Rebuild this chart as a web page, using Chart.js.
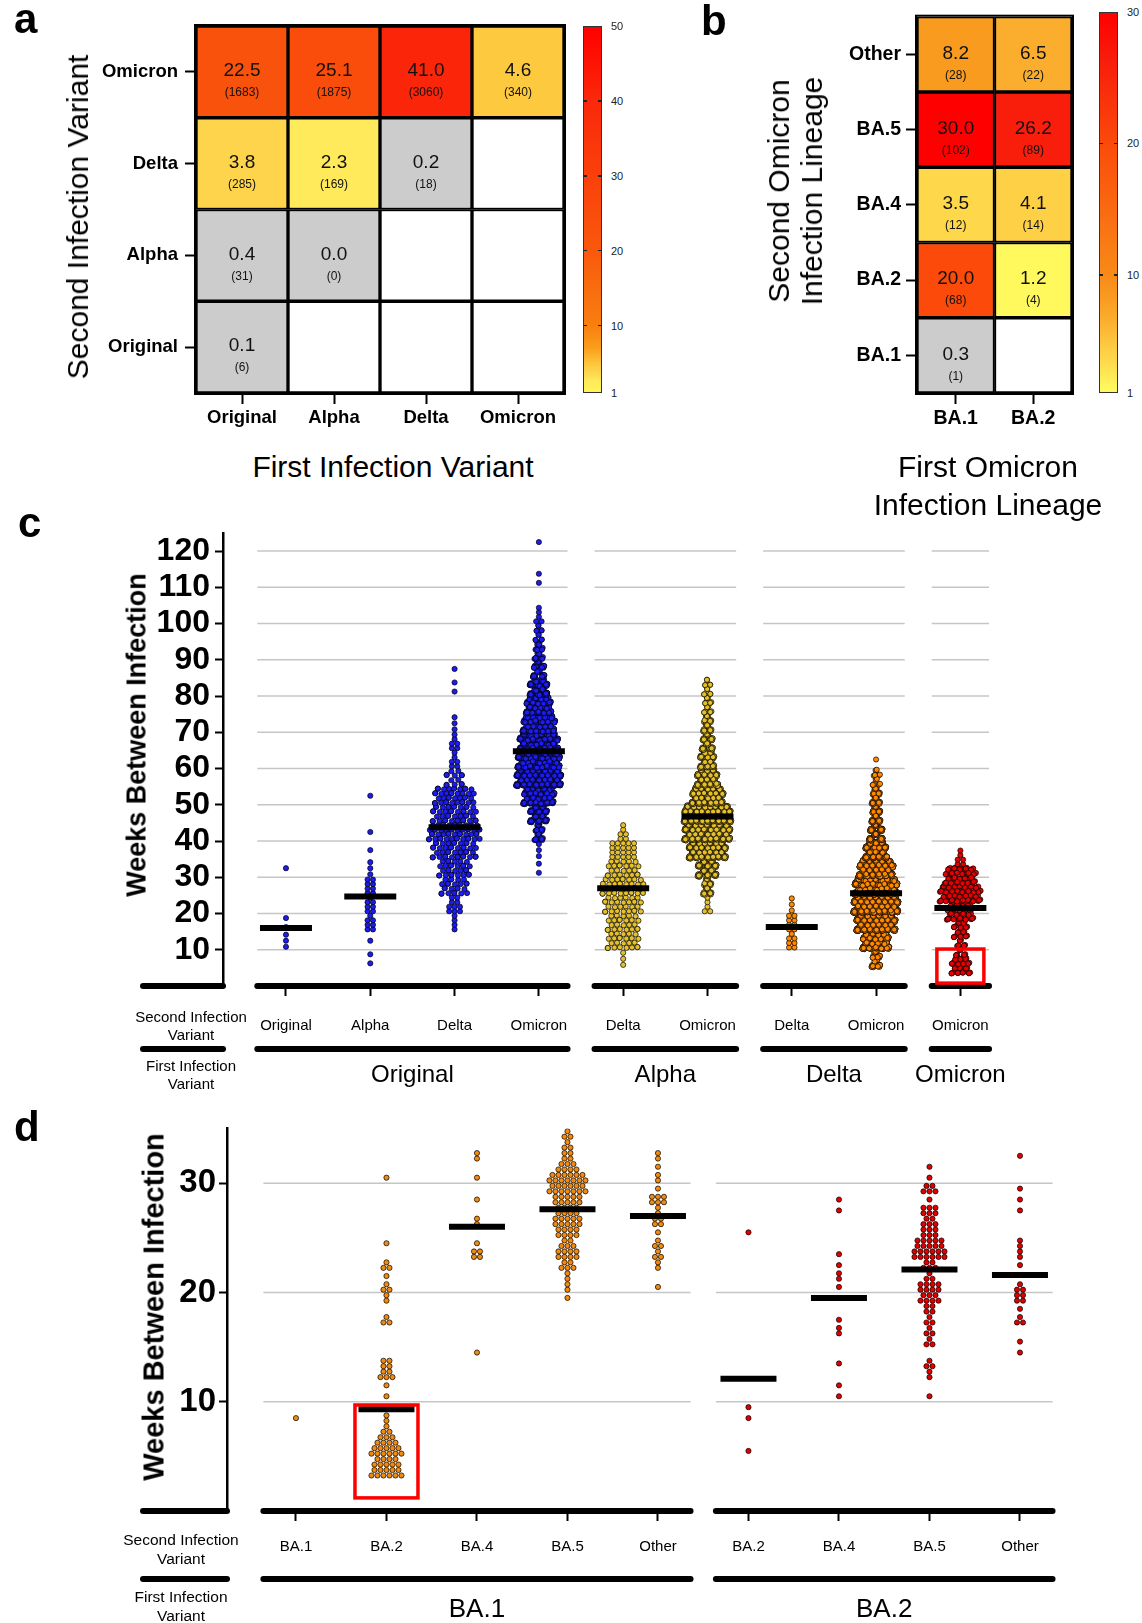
<!DOCTYPE html>
<html>
<head>
<meta charset="utf-8">
<title>Reinfection intervals by variant</title>
<script src="https://cdn.jsdelivr.net/npm/chart.js@4.4.1/dist/chart.umd.min.js"></script>
<style>
  html, body { margin: 0; padding: 0; background: #fff; }
  #page { position: relative; width: 1142px; height: 1623px; overflow: hidden;
          font-family: 'Liberation Sans', Arial, sans-serif; color: #000; }
  #page canvas { position: absolute; }
  .t { position: absolute; white-space: nowrap; line-height: 1; }
  .mid { transform: translate(-50%, -50%); text-align: center; }
  .rot { transform: translate(-50%, -50%) rotate(-90deg); text-align: center; }
  .letter { font-weight: bold; font-size: 42px; }
  .cbar { position: absolute; width: 19px; box-sizing: border-box; border: 1px solid #333; }
</style>
</head>
<body>
<div id="page">
  <canvas id="heatA" width="580" height="440" style="left:0;top:0"></canvas>
  <canvas id="heatB" width="390" height="440" style="left:700px;top:0"></canvas>
  <canvas id="swarmC" width="1142" height="590" style="left:0;top:500px"></canvas>
  <canvas id="swarmD" width="1142" height="523" style="left:0;top:1100px"></canvas>

  <div class="t letter" style="left:14px;top:-2px">a</div>
  <div class="t letter" style="left:701px;top:0">b</div>
  <div class="t letter" style="left:18px;top:502px">c</div>
  <div class="t letter" style="left:14px;top:1106px">d</div>

  <div class="t rot" style="left:78px;top:217px;font-size:30px">Second Infection Variant</div>
  <div class="t mid" style="left:393px;top:467px;font-size:30px">First Infection Variant</div>
  <div class="t rot" style="left:795px;top:191px;font-size:30px;line-height:33px">Second Omicron<br>Infection Lineage</div>
  <div class="t mid" style="left:988px;top:486px;font-size:30px;line-height:38px">First Omicron<br>Infection Lineage</div>

  <div class="t rot" style="left:137px;top:735px;font-size:27px;font-weight:bold">Weeks Between Infection</div>
  <div class="t mid" style="left:191px;top:1026px;font-size:15px;line-height:18px">Second Infection<br>Variant</div>
  <div class="t mid" style="left:191px;top:1075px;font-size:15px;line-height:18px">First Infection<br>Variant</div>

  <div class="t rot" style="left:154px;top:1307px;font-size:29px;font-weight:bold">Weeks Between Infection</div>
  <div class="t mid" style="left:181px;top:1549px;font-size:15.5px;line-height:19px">Second Infection<br>Variant</div>
  <div class="t mid" style="left:181px;top:1606px;font-size:15.5px;line-height:19px">First Infection<br>Variant</div>
</div>

<script>
// ---- panel a: % of reinfections, first variant (columns) x second variant (rows, bottom to top)
const firstA = ['Original', 'Alpha', 'Delta', 'Omicron'];
const secondA = ['Original', 'Alpha', 'Delta', 'Omicron'];
const pctA = [
  [0.1, null, null, null],
  [0.4, 0.0, null, null],
  [3.8, 2.3, 0.2, null],
  [22.5, 25.1, 41.0, 4.6]
];
const cntA = [
  [6, null, null, null],
  [31, 0, null, null],
  [285, 169, 18, null],
  [1683, 1875, 3060, 340]
];
const barTicksA = [1, 10, 20, 30, 40, 50];

// ---- panel b: omicron lineages
const firstB = ['BA.1', 'BA.2'];
const secondB = ['BA.1', 'BA.2', 'BA.4', 'BA.5', 'Other'];
const pctB = [
  [0.3, null],
  [20.0, 1.2],
  [3.5, 4.1],
  [30.0, 26.2],
  [8.2, 6.5]
];
const cntB = [
  [1, null],
  [68, 4],
  [12, 14],
  [102, 89],
  [28, 22]
];
const barTicksB = [1, 10, 20, 30];

// ---- panel c: weeks between infections, 5-week bins as [bin start, count]
const cFirst = ['Original', 'Alpha', 'Delta', 'Omicron'];
const cGroupSize = [4, 2, 2, 1];
const cSecond = ['Original', 'Alpha', 'Delta', 'Omicron', 'Delta', 'Omicron', 'Delta', 'Omicron', 'Omicron'];
const cOrigOrig = [[10, 3], [15, 2], [30, 1]];
const cOrigAlpha = [[5, 2], [10, 1], [15, 7], [20, 7], [25, 8], [30, 3], [35, 1], [40, 1], [50, 1]];
const cOrigDelta = [[15, 4], [20, 10], [25, 25], [30, 30], [35, 45], [40, 54], [45, 45], [50, 40], [55, 14],
  [60, 6], [65, 6], [70, 3], [80, 2], [85, 1]];
const cOrigOmi = [[30, 2], [35, 3], [40, 30], [45, 90], [50, 190], [55, 300], [60, 280], [65, 248], [70, 200],
  [75, 150], [80, 95], [85, 50], [90, 25], [95, 12], [100, 5], [110, 2], [120, 1]];
const cAlphaDelta = [[5, 3], [10, 25], [15, 25], [20, 30], [25, 35], [30, 25], [35, 20], [40, 6]];
const cAlphaOmi = [[20, 5], [25, 35], [30, 130], [35, 300], [40, 390], [45, 400], [50, 250], [55, 150], [60, 90],
  [65, 60], [70, 35], [75, 18], [80, 12]];
const cDeltaDelta = [[10, 7], [15, 8], [20, 3]];
const cDeltaOmi = [[5, 50], [10, 330], [15, 520], [20, 620], [25, 586], [30, 450], [35, 250], [40, 130], [45, 70],
  [50, 40], [55, 13], [60, 1]];
const cOmiOmi = [[3, 42], [8, 17], [13, 29], [18, 63], [23, 107], [28, 76], [33, 6]];
const cMeans = [16.0, 24.7, 43.8, 64.8, 27.0, 46.8, 16.3, 25.6, 21.5];
const cTicks = [10, 20, 30, 40, 50, 60, 70, 80, 90, 100, 110, 120];

// ---- panel d: omicron lineages, 1-week bins as [week, count]
const dFirst = ['BA.1', 'BA.2'];
const dGroupSize = [5, 4];
const dSecond = ['BA.1', 'BA.2', 'BA.4', 'BA.5', 'Other', 'BA.2', 'BA.4', 'BA.5', 'Other'];
const dBa1Ba1 = [[8, 1]];
const dBa1Ba2 = [[3, 11], [4, 9], [5, 11], [6, 7], [7, 3], [8, 2], [10, 1], [11, 1], [12, 5], [13, 4], [17, 3],
  [19, 2], [20, 3], [21, 1], [22, 3], [24, 1], [30, 1]];
const dBa1Ba4 = [[14, 1], [23, 4], [24, 1], [26, 2], [28, 1], [30, 1], [32, 2]];
const dBa1Ba5 = [[19, 1], [20, 2], [21, 2], [22, 5], [23, 8], [24, 5], [25, 8], [26, 10], [27, 8], [28, 10],
  [29, 13], [30, 13], [31, 7], [32, 4], [33, 3], [34, 3]];
const dBa1Other = [[20, 1], [22, 2], [23, 3], [24, 3], [25, 1], [26, 4], [27, 2], [28, 6], [29, 1], [30, 2], [31, 1], [32, 2]];
const dBa2Ba2 = [[5, 1], [8, 1], [9, 1], [25, 1]];
const dBa2Ba4 = [[10, 1], [11, 1], [13, 1], [16, 2], [17, 1], [19, 1], [20, 1], [21, 2], [22, 1], [23, 1], [27, 1], [28, 1]];
const dBa2Ba5 = [[10, 1], [12, 2], [13, 3], [15, 3], [16, 3], [17, 3], [18, 4], [19, 7], [20, 8], [21, 3], [22, 5],
  [23, 12], [24, 10], [25, 6], [26, 5], [27, 6], [28, 1], [29, 5], [30, 1], [31, 1]];
const dBa2Other = [[14, 1], [15, 1], [17, 3], [18, 1], [19, 4], [20, 3], [22, 1], [23, 2], [24, 2], [27, 1], [28, 1], [29, 1], [32, 1]];
const dMeans = [null, 9.3, 26.0, 27.6, 27.0, 12.1, 19.5, 22.1, 21.6];
const dTicks = [10, 20, 30];

// ---------------------------------------------------------------------------
const FONT = "'Liberation Sans', Arial, sans-serif";
Chart.defaults.font.family = FONT;
Chart.defaults.color = '#000';
Chart.defaults.plugins.legend.display = false;
Chart.defaults.plugins.tooltip.enabled = false;

const page = document.getElementById('page');

// colour ramps, t = (v - 1) / (max - 1)
const stopsA = [[0, '#fff55a'], [0.03, '#ffe95b'], [0.06, '#fdd24a'], [0.08, '#fdc43a'], [0.12, '#fb9e1c'],
  [0.18, '#f88010'], [0.39, '#f9580c'], [0.59, '#fa400b'], [0.8, '#fb280a'], [1, '#ff0000']];
const stopsB = [[0, '#fffa60'], [0.007, '#fff95e'], [0.086, '#fed74a'], [0.107, '#fdd045'], [0.19, '#fbae2d'],
  [0.25, '#f99a1f'], [0.31, '#f88a18'], [0.655, '#fb4a0a'], [0.87, '#f81e0b'], [1, '#ff0000']];

function hexRgb(h) { return [1, 3, 5].map(i => parseInt(h.substr(i, 2), 16)); }

function ramp(stops, t) {
  t = Math.max(0, Math.min(1, t));
  for (let i = 1; i < stops.length; i++) {
    if (t <= stops[i][0]) {
      const [t0, c0] = stops[i - 1], [t1, c1] = stops[i];
      const f = (t - t0) / (t1 - t0), a = hexRgb(c0), b = hexRgb(c1);
      return 'rgb(' + a.map((v, k) => Math.round(v + (b[k] - v) * f)).join(',') + ')';
    }
  }
  return stops[stops.length - 1][1];
}

function cellColor(v, max, stops) {
  if (v == null) return '#ffffff';
  if (v < 1) return '#cccccc';
  return ramp(stops, (v - 1) / (max - 1));
}

function addText(txt, x, y, css) {
  const d = document.createElement('div');
  d.className = 't mid';
  d.textContent = txt;
  d.style.left = x + 'px';
  d.style.top = y + 'px';
  Object.assign(d.style, css);
  page.appendChild(d);
}

function cellLabels(pct, cnt) {
  return {
    id: 'cellLabels',
    afterDatasetsDraw(chart) {
      const { ctx, chartArea: a } = chart;
      ctx.save();
      ctx.textAlign = 'center';
      ctx.textBaseline = 'middle';
      ctx.fillStyle = '#111';
      pct.forEach((row, r) => {
        const bars = chart.getDatasetMeta(r).data;
        row.forEach((v, c) => {
          if (v == null) return;
          const b = bars[c], cy = (b.y + b.base) / 2;
          ctx.font = '19px ' + FONT;
          ctx.fillText(v.toFixed(1), b.x, cy - 1);
          ctx.font = '12px ' + FONT;
          ctx.fillText('(' + cnt[r][c] + ')', b.x, cy + 21);
        });
      });
      ctx.lineWidth = 2;
      ctx.strokeStyle = '#000';
      ctx.strokeRect(a.left - 1, a.top - 1, a.right - a.left + 2, a.bottom - a.top + 2);
      ctx.restore();
    }
  };
}

function heatmap(id, cols, rows, pct, cnt, max, stops, geo) {
  return new Chart(document.getElementById(id), {
    type: 'bar',
    data: {
      labels: cols,
      datasets: rows.map((name, r) => ({
        label: name,
        data: cols.map(() => 1),
        backgroundColor: cols.map((_, c) => cellColor(pct[r][c], max, stops)),
        borderColor: '#000',
        borderWidth: 2,
        borderSkipped: false,
        barPercentage: 1,
        categoryPercentage: 1
      }))
    },
    options: {
      responsive: false,
      animation: false,
      events: [],
      devicePixelRatio: 1,
      layout: { autoPadding: false, padding: { left: 0, top: geo.top, right: geo.right, bottom: 0 } },
      scales: {
        x: {
          stacked: true,
          grid: { offset: false, drawOnChartArea: false, tickLength: 11, tickWidth: 2, tickColor: '#000' },
          border: { display: false },
          ticks: { font: { size: geo.font, weight: 'bold' }, padding: 3 },
          afterFit: s => { s.height = geo.xh; }
        },
        y: {
          stacked: true,
          min: 0,
          max: rows.length,
          grid: { drawOnChartArea: false, tickLength: 11, tickWidth: 2, tickColor: '#000' },
          border: { display: false },
          afterBuildTicks: s => { s.ticks = rows.map((_, i) => ({ value: i + 0.5 })); },
          ticks: { callback: (v, i) => rows[i], autoSkip: false, font: { size: geo.font, weight: 'bold' }, padding: geo.ypad },
          afterFit: s => { s.width = geo.yw; }
        }
      }
    },
    plugins: [cellLabels(pct, cnt)]
  });
}

function colorBar(left, top, height, ticks, max, stops) {
  const bar = document.createElement('div');
  bar.className = 'cbar';
  bar.style.left = left + 'px';
  bar.style.top = top + 'px';
  bar.style.height = height + 'px';
  bar.style.background = 'linear-gradient(to top, ' + stops.map(([t, c]) => c + ' ' + (t * 100) + '%').join(', ') + ')';
  page.appendChild(bar);
  ticks.forEach(v => {
    const y = top + height - (v - 1) / (max - 1) * height;
    const lab = document.createElement('div');
    lab.className = 't';
    lab.textContent = v;
    Object.assign(lab.style, { left: (left + 28) + 'px', top: y + 'px', fontSize: '11px', transform: 'translateY(-50%)', color: '#222' });
    page.appendChild(lab);
    if (v !== ticks[0] && v !== max) {
      [left, left + 15].forEach(x => {
        const tk = document.createElement('div');
        Object.assign(tk.style, { position: 'absolute', left: x + 'px', top: (y - 0.75) + 'px', width: '4px', height: '1.5px', background: '#222' });
        page.appendChild(tk);
      });
    }
  });
}

const frac = v => v - Math.floor(v);

// lay each bin's points out in rows; crowded bins use hexagonal slots within a width
// tapered by the bin's share of the column, later points stacking over earlier ones
function swarm(bins, binW, col, pxX, pxY, halfCap, lay) {
  const nMax = Math.max(...bins.map(b => b[1]));
  const pts = [];
  bins.forEach(([start, n]) => {
    const rows = Math.min(n, Math.max(1, Math.round(binW * pxY / lay.pitch)));
    const cap = lay.taper ? Math.max(lay.gap / 2, halfCap * Math.pow(n / nMax, lay.taper)) : halfCap;
    const perRow = Math.ceil(n / rows);
    const rowY = r => start + (r + 0.5) * binW / rows;
    if ((perRow - 1) * lay.gap / 2 <= cap) {
      for (let r = 0; r < rows; r++) {
        const m = Math.floor(n / rows) + (r < n % rows ? 1 : 0);
        for (let i = 0; i < m; i++) pts.push({ x: col + (i - (m - 1) / 2) * lay.gap / pxX, y: rowY(r) });
      }
      return;
    }
    const cols = Math.floor(2 * cap / lay.gap) + 1;
    const sp = 2 * cap / (cols - 1);
    const slots = [];
    for (let r = 0; r < rows; r++) {
      const k = r % 2 ? cols - 1 : cols;
      for (let j = 0; j < k; j++) {
        const id = slots.length;
        const xp = -cap + (j + (r % 2 ? 0.5 : 0)) * sp + (frac(id * 0.618) - 0.5) * 1.2;
        const yp = (frac(id * 0.382) - 0.5) * 1.0;
        slots.push({ xp, y: rowY(r) + yp / pxY, key: frac(id * 0.618034) });
      }
    }
    slots.sort((a, b) => a.key - b.key);
    const jx = [0, 1.1, -1.1, 0.55, -0.55], jy = [0, 0.7, -0.7, -1.1, 1.1];
    for (let i = 0; i < n; i++) {
      const s = slots[i % slots.length], c = Math.floor(i / slots.length);
      const last = c === Math.floor((n - 1) / slots.length);
      const dx = last ? 0 : jx[c % 5], dy = last ? 0 : jy[c % 5];
      pts.push({ x: col + (s.xp + dx) / pxX, y: s.y + dy / pxY });
    }
  });
  return pts;
}

function groupSpans(sizes, pad) {
  const out = [];
  let k = 0;
  sizes.forEach(n => { out.push([k - pad, k + n - 1 + pad]); k += n; });
  return out;
}

function decor(cfg, spans) {
  return {
    id: 'decor',
    beforeDatasetsDraw(chart) {
      const { ctx, scales: { x, y } } = chart;
      ctx.save();
      ctx.strokeStyle = '#c6c6c6';
      ctx.lineWidth = 1.5;
      spans.forEach(([a, b]) => cfg.yTicks.forEach(v => {
        const py = y.getPixelForValue(v);
        ctx.beginPath();
        ctx.moveTo(x.getPixelForValue(a), py);
        ctx.lineTo(x.getPixelForValue(b), py);
        ctx.stroke();
      }));
      ctx.restore();
    },
    afterDatasetsDraw(chart) {
      const { ctx, chartArea: area, scales: { x, y } } = chart;
      ctx.save();
      ctx.strokeStyle = '#000';
      ctx.lineWidth = 6;
      ctx.lineCap = 'round';
      const lines = (y0) => {
        spans.forEach(([a, b]) => {
          ctx.beginPath();
          ctx.moveTo(x.getPixelForValue(a), y0);
          ctx.lineTo(x.getPixelForValue(b), y0);
          ctx.stroke();
        });
        ctx.beginPath();
        ctx.moveTo(cfg.stubLeft, y0);
        ctx.lineTo(area.left, y0);
        ctx.stroke();
      };
      lines(area.bottom);
      lines(area.bottom + cfg.under);
      const bx = x.getPixelForValue(cfg.box.col);
      const by0 = y.getPixelForValue(cfg.box.y0), by1 = y.getPixelForValue(cfg.box.y1);
      ctx.strokeStyle = '#ff0000';
      ctx.lineWidth = 3.5;
      ctx.lineCap = 'butt';
      ctx.strokeRect(bx - cfg.box.half, by1, 2 * cfg.box.half, by0 - by1);
      ctx.restore();
    }
  };
}

function swarmChart(id, cfg) {
  const g = cfg.geo;
  const pxX = (g.right - g.left) / (g.xMax - g.xMin);
  const pxY = (g.bottom - g.top) / g.yMax;
  const spans = groupSpans(cfg.groupSize, cfg.pad);
  const groupOf = [];
  cfg.groupSize.forEach((n, gi) => { for (let i = 0; i < n; i++) groupOf.push(gi); });
  const datasets = cfg.bins.map((bins, i) => ({
    data: swarm(bins, cfg.binW, i, pxX, pxY, cfg.halfCap[i], cfg.lay),
    pointRadius: cfg.lay.r,
    pointBackgroundColor: cfg.colors[groupOf[i]],
    pointBorderColor: '#000',
    pointBorderWidth: 0.7
  }));
  datasets.push({
    data: cfg.means.map((m, i) => (m == null ? null : { x: i, y: m })).filter(Boolean),
    order: -1,
    pointStyle: 'line',
    pointRadius: cfg.lay.meanHalf,
    pointBorderColor: '#000',
    pointBorderWidth: 6
  });
  const canvas = document.getElementById(id);
  const chart = new Chart(canvas, {
    type: 'scatter',
    data: { datasets },
    options: {
      responsive: false,
      animation: false,
      events: [],
      devicePixelRatio: 1,
      layout: { autoPadding: false, padding: { left: 0, top: g.top - g.canvasTop, right: canvas.width - g.right, bottom: 0 } },
      scales: {
        x: {
          type: 'linear',
          min: g.xMin,
          max: g.xMax,
          afterBuildTicks: s => { s.ticks = cfg.second.map((_, i) => ({ value: i })); },
          ticks: { callback: (v, i) => cfg.second[i], autoSkip: false, maxRotation: 0, font: { size: 15 }, padding: cfg.xPad },
          grid: { drawOnChartArea: false, tickLength: 10, tickWidth: 2, tickColor: '#000' },
          border: { display: false },
          afterFit: s => { s.height = g.canvasTop + canvas.height - g.bottom; }
        },
        y: {
          min: 0,
          max: g.yMax,
          afterBuildTicks: s => { s.ticks = cfg.yTicks.map(v => ({ value: v })); },
          ticks: { autoSkip: false, font: { size: cfg.yFont, weight: 'bold' }, padding: cfg.yPad },
          grid: { drawOnChartArea: false, tickLength: 8, tickWidth: 2, tickColor: '#000' },
          border: { display: true, color: '#000', width: 2.5 },
          afterFit: s => { s.width = g.left; }
        }
      }
    },
    plugins: [decor(cfg, spans)]
  });
  let k = 0;
  cfg.groupSize.forEach((n, gi) => {
    addText(cfg.first[gi], chart.scales.x.getPixelForValue(k + (n - 1) / 2), cfg.groupLabelY, { fontSize: cfg.groupFont + 'px' });
    k += n;
  });
  return chart;
}

// ---- build
heatmap('heatA', firstA, secondA, pctA, cntA, 50, stopsA, { top: 26, right: 16, yw: 196, xh: 47, font: 18.5, ypad: 7 });
heatmap('heatB', firstB, secondB, pctB, cntB, 30, stopsB, { top: 12, right: 18, yw: 217, xh: 47, font: 19.5, ypad: 5 });
colorBar(583, 26, 367, barTicksA, 50, stopsA);
colorBar(1099, 12, 381, barTicksB, 30, stopsB);

swarmChart('swarmC', {
  geo: { canvasTop: 500, left: 223, right: 1000, top: 533, bottom: 986, xMin: -0.747, xMax: 8.47, yMax: 125 },
  first: cFirst, groupSize: cGroupSize, second: cSecond,
  bins: [cOrigOrig, cOrigAlpha, cOrigDelta, cOrigOmi, cAlphaDelta, cAlphaOmi, cDeltaDelta, cDeltaOmi, cOmiOmi],
  means: cMeans, yTicks: cTicks, binW: 5,
  colors: ['#1c1cf0', '#e5c02a', '#ff8a00', '#e60000'],
  halfCap: [6, 20, 25, 21, 20, 22, 10, 21, 19],
  lay: { r: 2.6, pitch: 4.6, gap: 5.4, taper: 0.9, meanHalf: 26 },
  pad: 0.34, under: 63, stubLeft: 143, xPad: 21, yFont: 32, yPad: 5,
  groupLabelY: 1074, groupFont: 24,
  box: { col: 8, half: 23.5, y0: 0.8, y1: 10.2 }
});

swarmChart('swarmD', {
  geo: { canvasTop: 1100, left: 227, right: 1075, top: 1128.5, bottom: 1511, xMin: -0.762, xMax: 8.608, yMax: 35 },
  first: dFirst, groupSize: dGroupSize, second: dSecond,
  bins: [dBa1Ba1, dBa1Ba2, dBa1Ba4, dBa1Ba5, dBa1Other, dBa2Ba2, dBa2Ba4, dBa2Ba5, dBa2Other],
  means: dMeans, yTicks: dTicks, binW: 1,
  colors: ['#f28a10', '#e00000'],
  halfCap: [28, 28, 28, 28, 28, 28, 28, 28, 28],
  lay: { r: 2.6, pitch: 5.6, gap: 6, taper: 0, meanHalf: 28 },
  pad: 0.36, under: 68, stubLeft: 143, xPad: 17, yFont: 33, yPad: 3,
  groupLabelY: 1608, groupFont: 26,
  box: { col: 1, half: 31.5, y0: 1.2, y1: 9.7 }
});
</script>
</body>
</html>
